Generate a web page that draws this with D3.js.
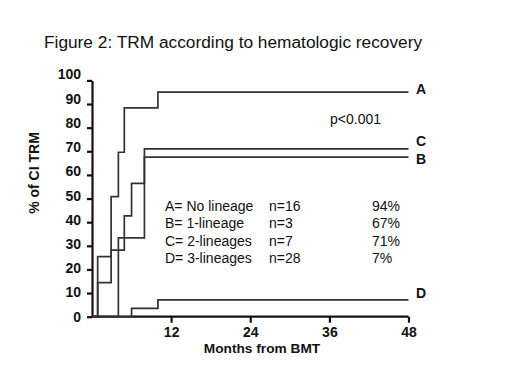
<!DOCTYPE html>
<html lang="en">
<head>
<meta charset="utf-8">
<title>Figure 2: TRM according to hematologic recovery</title>
<script src="https://d3js.org/d3.v7.min.js"></script>
<style>
  body { margin: 0; background: #fff; }
  svg text { font-family: Arial, "Liberation Sans", sans-serif; fill: #111; }
  .axis path, .axis line { stroke: #111; stroke-width: 2.2; }
  .axis text { font-size: 14px; font-weight: bold; }
</style>
</head>
<body>
<script>
// step curves: event times (months) and cumulative incidence (%) after each step
const months = {
  A: [0.86, 2.9, 4.0, 4.9, 10.0],
  B: [4.0, 7.95],
  C: [0.86, 2.9, 4.9, 6.0, 7.95],
  D: [6.0, 10.0]
};
const values = {
  A: [25.4, 50.8, 69.6, 88.4, 95],
  B: [33.4, 67.5],
  C: [14.4, 28.2, 42.7, 56.4, 71],
  D: [3.5, 7.1]
};
const groups = ["A", "B", "C", "D"];
const legendLabels = ["A= No lineage", "B= 1-lineage", "C= 2-lineages", "D= 3-lineages"];
const legendN = ["n=16", "n=3", "n=7", "n=28"];
const legendPct = ["94%", "67%", "71%", "7%"];
const xTicks = [12, 24, 36, 48];
const yTicks = [0, 10, 20, 30, 40, 50, 60, 70, 80, 90, 100];

const width = 520, height = 390;

const x = d3.scaleLinear().domain([0, 48]).range([92, 408.5]);
const y = d3.scaleLinear().domain([0, 100]).range([316.7, 80.4]);

const svg = d3.select("body").append("svg")
  .attr("width", width)
  .attr("height", height);

// title
svg.append("text")
  .attr("x", 44).attr("y", 48)
  .style("font-size", "17.3px")
  .text("Figure 2: TRM according to hematologic recovery");

// axes
svg.append("g")
  .attr("class", "axis")
  .attr("transform", "translate(0," + y(0) + ")")
  .call(d3.axisBottom(x).tickValues(xTicks).tickSize(6).tickPadding(4).tickSizeOuter(0))
  .call(g => g.select(".domain").attr("d", "M" + x(0) + ",0H" + x(48)));

svg.append("g")
  .attr("class", "axis")
  .attr("transform", "translate(" + x(0) + ",0)")
  .call(d3.axisLeft(y).tickValues(yTicks).tickSize(5).tickPadding(6).tickSizeOuter(0))
  // labels in the original sit a little above their ticks towards the top
  .call(g => g.selectAll(".tick text").attr("y", d => -d * 0.06));

// axis titles
svg.append("text")
  .attr("x", 262).attr("y", 353)
  .attr("text-anchor", "middle")
  .style("font-size", "13.7px")
  .style("font-weight", "bold")
  .text("Months from BMT");

svg.append("text")
  .attr("transform", "translate(39,173) rotate(-90)")
  .attr("text-anchor", "middle")
  .style("font-size", "14px")
  .style("font-weight", "bold")
  .text("% of CI TRM");

// curves
const line = d3.line().x(d => x(d[0])).y(d => y(d[1])).curve(d3.curveStepAfter);
groups.forEach(k => {
  const pts = [[0, 0]];
  months[k].forEach((m, i) => pts.push([m, values[k][i]]));
  pts.push([48, values[k][values[k].length - 1]]);
  svg.append("path")
    .datum(pts)
    .attr("fill", "none")
    .attr("stroke", "#333")
    .attr("stroke-width", 1.7)
    .attr("d", line);
});

// end labels
const endY = { A: 89, B: 159, C: 141, D: 293 };
groups.forEach(k => {
  svg.append("text")
    .attr("x", 416).attr("y", endY[k])
    .attr("dy", "0.35em")
    .style("font-size", "14px")
    .style("font-weight", "bold")
    .text(k);
});

svg.append("text")
  .attr("x", 330).attr("y", 124)
  .style("font-size", "14px")
  .text("p<0.001");

// legend
legendLabels.forEach((t, i) => {
  const ty = 211 + i * 17.3;
  svg.append("text").attr("x", 165).attr("y", ty).style("font-size", "14px").text(t);
  svg.append("text").attr("x", 269).attr("y", ty).style("font-size", "14px").text(legendN[i]);
  svg.append("text").attr("x", 372).attr("y", ty).style("font-size", "14px").text(legendPct[i]);
});
</script>
</body>
</html>
